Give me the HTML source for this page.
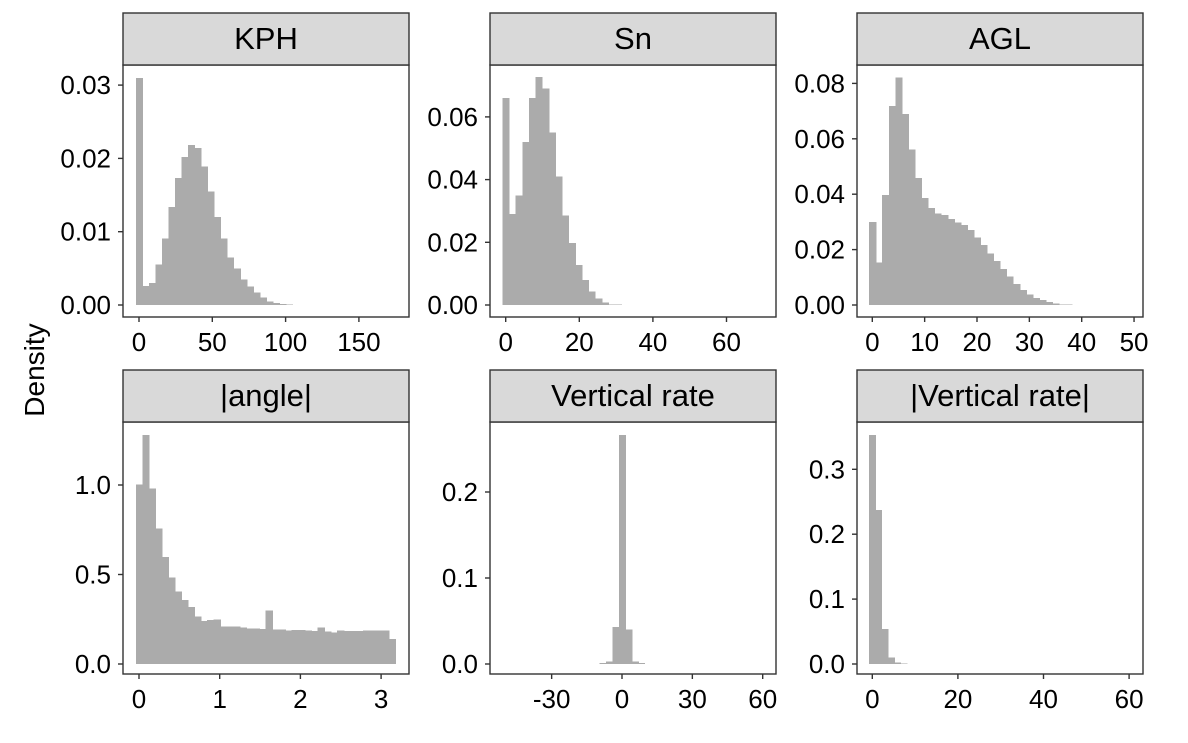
<!DOCTYPE html>
<html><head><meta charset="utf-8"><style>
body{margin:0;background:#fff;}
svg text{font-family:"Liberation Sans",Arial,sans-serif;fill:#000;}
</style></head><body>
<svg id="c" width="1188" height="738" viewBox="0 0 1188 738" xmlns="http://www.w3.org/2000/svg">
<text x="44" y="370" font-size="28" text-anchor="middle" transform="rotate(-90 44 370)">Density</text>
</svg>
<script>
// ---- data (densities per bin) ----
const kphDensity=[0.031,0.0026,0.003,0.0055,0.0091,0.0134,0.0173,0.0202,0.0218,0.0214,0.0189,0.0155,0.012,0.0091,0.0065,0.005,0.0035,0.0025,0.0017,0.001,0.0005,0.0003,0.00012,0.00006,0.00003];
const snDensity=[0.066,0.029,0.035,0.052,0.066,0.0727,0.069,0.055,0.041,0.0285,0.0197,0.0127,0.008,0.0043,0.002,0.0008,0.0002,0.0001];
const aglDensity=[0.030,0.0153,0.0398,0.0718,0.0821,0.0690,0.0562,0.0459,0.0387,0.0351,0.0331,0.0325,0.0310,0.0298,0.0289,0.0271,0.0244,0.0217,0.0186,0.0159,0.0130,0.0102,0.0076,0.0054,0.0038,0.0026,0.0018,0.0010,0.0005,0.0002,0.0001,0.00005];
const angleDensity=[1.004,1.280,0.981,0.758,0.598,0.482,0.406,0.358,0.318,0.266,0.240,0.246,0.250,0.210,0.210,0.209,0.203,0.199,0.197,0.196,0.298,0.192,0.192,0.188,0.190,0.190,0.186,0.183,0.203,0.181,0.177,0.186,0.184,0.183,0.183,0.186,0.186,0.186,0.186,0.140];
const vrateDensity=[0.001,0.003,0.043,0.266,0.040,0.003,0.001];
const absVrateDensity=[0.353,0.237,0.054,0.0098,0.0026,0.001];
// bin settings: [first bin left edge, bin width]
const kphBins=[-2.2,4.45];
const snBins=[-0.9,1.8];
const aglBins=[-0.6,1.25];
const angleBins=[-0.04,0.0805];
const vrateBins=[-9.6,2.75];
const absVrateBins=[-0.8,1.48];
// tick labels
const kphXTicks=[0,50,100,150], kphYTicks=["0.00","0.01","0.02","0.03"];
const snXTicks=[0,20,40,60], snYTicks=["0.00","0.02","0.04","0.06"];
const aglXTicks=[0,10,20,30,40,50], aglYTicks=["0.00","0.02","0.04","0.06","0.08"];
const angleXTicks=[0,1,2,3], angleYTicks=["0.0","0.5","1.0"];
const vrateXTicks=[-30,0,30,60], vrateYTicks=["0.0","0.1","0.2"];
const absVrateXTicks=[0,20,40,60], absVrateYTicks=["0.0","0.1","0.2","0.3"];

const NS="http://www.w3.org/2000/svg";
const svg=document.getElementById('c');
function mk(tag,attrs,parent){const e=document.createElementNS(NS,tag);for(const k in attrs)e.setAttribute(k,attrs[k]);(parent||svg).appendChild(e);return e;}

const panels=[
 {key:'kph',title:'KPH',L:123,T:13,d:kphDensity,b:kphBins,xt:kphXTicks,yt:kphYTicks,x0:139,xs:73.3/50,y0:305,ys:7330},
 {key:'sn',title:'Sn',L:490,T:13,d:snDensity,b:snBins,xt:snXTicks,yt:snYTicks,x0:505.7,xs:3.68,y0:305,ys:3135},
 {key:'agl',title:'AGL',L:857,T:13,d:aglDensity,b:aglBins,xt:aglXTicks,yt:aglYTicks,x0:872.3,xs:5.235,y0:305,ys:2770},
 {key:'angle',title:'|angle|',L:123,T:370,d:angleDensity,b:angleBins,xt:angleXTicks,yt:angleYTicks,x0:139,xs:80.7,y0:664,ys:179},
 {key:'vertical-rate',title:'Vertical rate',L:490,T:370,d:vrateDensity,b:vrateBins,xt:vrateXTicks,yt:vrateYTicks,x0:622,xs:2.345,y0:664,ys:860},
 {key:'abs-vertical-rate',title:'|Vertical rate|',L:857,T:370,d:absVrateDensity,b:absVrateBins,xt:absVrateXTicks,yt:absVrateYTicks,x0:872.3,xs:4.28,y0:664,ys:649}
];
const W=286, SH=52, PH=252;
panels.forEach(p=>{
  const g=mk('g',{});
  
  
  const xS=v=>p.x0+v*p.xs, yS=v=>p.y0-v*p.ys;
  const pt=p.T+SH;
  mk('rect',{x:p.L,y:pt,width:W,height:PH,fill:'#fff'},g);
  p.d.forEach((v,i)=>{
    const x1=xS(p.b[0]+i*p.b[1]), x2=xS(p.b[0]+(i+1)*p.b[1]);
    const r=mk('rect',{x:x1,y:yS(v),width:Math.max(0,x2-x1+0.6),height:Math.max(0,p.y0-yS(v)),fill:'#ababab','shape-rendering':'crispEdges'},g);
    
    
  });
  const fr=mk('rect',{x:p.L,y:pt,width:W,height:PH,fill:'none',stroke:'#333','stroke-width':1.4},g);
  
  
  const st=mk('rect',{x:p.L,y:p.T,width:W,height:SH,fill:'#d9d9d9',stroke:'#333','stroke-width':1.4},g);
  
  
  const tt=mk('text',{x:p.L+W/2,y:p.T+SH/2+10,'font-size':31,'text-anchor':'middle',fill:'#1a1a1a'},g);
  tt.textContent=p.title;
  
  
  const bottom=pt+PH;
  p.xt.forEach(v=>{
    const x=xS(v);
    mk('line',{x1:x,x2:x,y1:bottom,y2:bottom+5,stroke:'#333','stroke-width':1.4},g);
    const t=mk('text',{x:x,y:bottom+34,'font-size':26,'text-anchor':'middle'},g);
    t.textContent=v;
    
    
  });
  p.yt.forEach(s=>{
    const y=yS(parseFloat(s));
    mk('line',{x1:p.L-5,x2:p.L,y1:y,y2:y,stroke:'#333','stroke-width':1.4},g);
    const t=mk('text',{x:p.L-12,y:y+9,'font-size':26,'text-anchor':'end'},g);
    t.textContent=s;
    
    
  });
});
</script>
</body></html>
